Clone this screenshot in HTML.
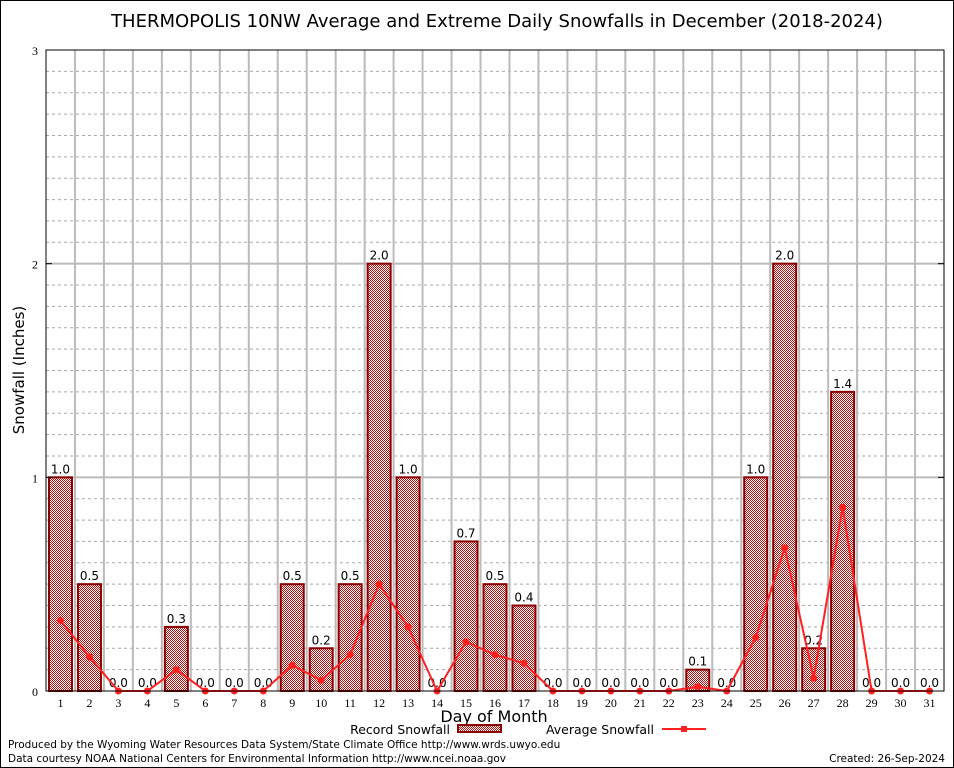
<!DOCTYPE html>
<html><head><meta charset="utf-8"><style>
body{margin:0;background:#fff;}
svg{display:block;font-family:"DejaVu Sans","Liberation Sans",sans-serif;}
</style></head><body>
<svg id="chart" width="954" height="768" viewBox="0 0 954 768">
<defs>
<pattern id="chk" width="2" height="2" patternUnits="userSpaceOnUse">
<rect width="2" height="2" fill="#fff"/><rect width="1" height="1" fill="#b01010"/><rect x="1" y="1" width="1" height="1" fill="#b01010"/>
</pattern>
</defs>
<rect x="0.5" y="0.5" width="953" height="767" fill="#fff" stroke="#000"/>
<text x="497" y="27" text-anchor="middle" font-size="18">THERMOPOLIS 10NW Average and Extreme Daily Snowfalls in December (2018-2024)</text>
<g id="grid"></g>
<g id="bars"></g>
<g id="avg"></g>
<rect x="46" y="50" width="898" height="641" fill="none" stroke="#000"/>
<g id="axes"></g>
<text x="24" y="370" text-anchor="middle" font-size="15" transform="rotate(-90 24 370)">Snowfall (Inches)</text>
<text x="494" y="722" text-anchor="middle" font-size="16">Day of Month</text>
<g>
<text x="450" y="734" text-anchor="end" font-size="12.5">Record Snowfall</text>
<rect x="458" y="725" width="43" height="7" fill="url(#chk)" stroke="#8b0000" stroke-width="2"/>
<text x="654" y="734" text-anchor="end" font-size="12.5">Average Snowfall</text>
<line x1="662" y1="729" x2="706" y2="729" stroke="#ff2020" stroke-width="2"/>
<rect x="681" y="726" width="6" height="6" fill="#ff2020"/>
</g>
<text x="8" y="748" font-size="10.5">Produced by the Wyoming Water Resources Data System/State Climate Office http://www.wrds.uwyo.edu</text>
<text x="8" y="762" font-size="10.5">Data courtesy NOAA National Centers for Environmental Information http://www.ncei.noaa.gov</text>
<text x="945" y="762" text-anchor="end" font-size="10.5">Created: 26-Sep-2024</text>
</svg>
<script>
const days=[1,2,3,4,5,6,7,8,9,10,11,12,13,14,15,16,17,18,19,20,21,22,23,24,25,26,27,28,29,30,31];
const recordSnow=[1.0,0.5,0,0,0.3,0,0,0,0.5,0.2,0.5,2.0,1.0,0,0.7,0.5,0.4,0,0,0,0,0,0.1,0,1.0,2.0,0.2,1.4,0,0,0];
const avgSnow=[0.33,0.16,0,0,0.1,0,0,0,0.12,0.05,0.17,0.5,0.3,0,0.23,0.17,0.13,0,0,0,0,0,0.02,0,0.25,0.67,0.06,0.86,0,0,0];
const yTicks=[0,1,2,3];
const X0=46,X1=944,Y0=691,Y1=50,YMAX=3;
const NS="http://www.w3.org/2000/svg";
const slot=(X1-X0)/days.length;
const xc=i=>X0+(i+0.5)*slot;
const y=v=>Y0-(v/YMAX)*(Y0-Y1);
function mk(tag,attrs,parent){const e=document.createElementNS(NS,tag);for(const k in attrs)e.setAttribute(k,attrs[k]);parent.appendChild(e);return e;}
const grid=document.getElementById('grid'),bars=document.getElementById('bars'),avg=document.getElementById('avg'),axes=document.getElementById('axes');
for(let v=1;v<YMAX*10;v++){if(v%10===0)continue;
 const l=mk('line',{x1:X0,x2:X1,y1:y(v/10),y2:y(v/10),stroke:'#aaa','stroke-dasharray':'3,3','stroke-width':1},grid);
 
 }
yTicks.forEach(t=>{
 if(t>0&&t<YMAX){const l=mk('line',{x1:X0,x2:X1,y1:y(t),y2:y(t),stroke:'#bbb','stroke-width':2},grid);
 
 }
 const tx=mk('text',{x:X0-8,y:y(t)+5,'text-anchor':'end','font-size':12,'font-family':'Liberation Serif,serif'},axes);tx.textContent=t;
 
 
 for(const xx of [X0,X1]){const tk=mk('line',{x1:xx,x2:xx+(xx===X0?6:-6),y1:y(t),y2:y(t),stroke:'#000'},axes);
 
 }
});
for(let i=1;i<days.length;i++){const xx=X0+i*slot;
 const l=mk('line',{x1:xx,x2:xx,y1:Y1,y2:Y0,stroke:'#bbb','stroke-width':2},grid);
 
 }
days.forEach((d,i)=>{
 const v=recordSnow[i];
 if(v>0){const r=mk('rect',{x:xc(i)-11.5,y:y(v),width:23,height:Y0-y(v),fill:'url(#chk)',stroke:'#8b0000','stroke-width':2},bars);
 
 }
 const lb=mk('text',{x:xc(i),y:y(v)-4,'text-anchor':'middle','font-size':12},bars);lb.textContent=v.toFixed(1);
 
 
 const tx=mk('text',{x:xc(i),y:Y0+16,'text-anchor':'middle','font-size':12,'font-family':'Liberation Serif,serif'},axes);tx.textContent=d;
 
 
});
const pl=mk('polyline',{points:avgSnow.map((v,i)=>xc(i)+','+y(v)).join(' '),fill:'none',stroke:'#ff2020','stroke-width':2},avg);


avgSnow.forEach((v,i)=>{const c=mk('circle',{cx:xc(i),cy:y(v),r:3.5,fill:'#ff2020'},avg);
 
 });
</script>
</body></html>
